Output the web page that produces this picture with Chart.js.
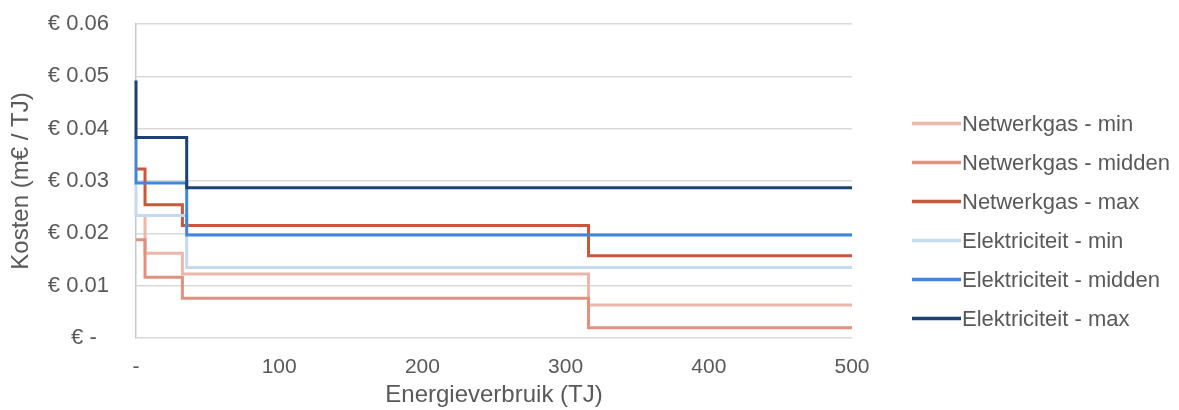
<!DOCTYPE html>
<html>
<head>
<meta charset="utf-8">
<script src="https://cdn.jsdelivr.net/npm/chart.js@4/dist/chart.umd.min.js"></script>
<style>
  html, body { margin: 0; padding: 0; background: #ffffff; }
  #wrap { width: 1179px; height: 410px; position: relative; }
</style>
</head>
<body>
<div id="wrap"><canvas id="chart" width="1179" height="410"></canvas></div>
<script>
// Kosten per TJ (m€) als trapfunctie van het energieverbruik (TJ)
const seriesNames = [
  'Netwerkgas - min',
  'Netwerkgas - midden',
  'Netwerkgas - max',
  'Elektriciteit - min',
  'Elektriciteit - midden',
  'Elektriciteit - max'
];
const seriesColors = ['#ebb7a9', '#df927f', '#c8583b', '#c5d9f2', '#3f87dc', '#1e4074'];

// Drempels (TJ) waarop het tarief verandert
const gasX  = [0, 6.3, 32.4, 316, 500];
const elekX = [0, 0, 35.4, 500];

// Tarieven per segment (m€ / TJ)
const gasMin     = [0.0234, 0.0162, 0.01225, 0.0063, 0.0063];
const gasMidden  = [0.01876, 0.01162, 0.0076, 0.00197, 0.00197];
const gasMax     = [0.0323, 0.02545, 0.0215, 0.0157, 0.0157];
const elekMin    = [0.0296, 0.0234, 0.01345, 0.01345];
const elekMidden = [0.0383, 0.0296, 0.0197, 0.0197];
const elekMax    = [0.0492, 0.0383, 0.0287, 0.0287];

const xTicks = [0, 100, 200, 300, 400, 500];
const yTicks = [0, 0.01, 0.02, 0.03, 0.04, 0.05, 0.06];

const seriesX = [gasX, gasX, gasX, elekX, elekX, elekX];
const seriesY = [gasMin, gasMidden, gasMax, elekMin, elekMidden, elekMax];

const FONT = "'Liberation Sans', Arial, Helvetica, sans-serif";
const TEXT = '#595959';

const datasets = seriesNames.map((name, i) => ({
  label: name,
  data: seriesX[i].map((x, j) => ({ x: x, y: seriesY[i][j] })),
  borderColor: seriesColors[i],
  backgroundColor: seriesColors[i],
  borderWidth: 3,
  stepped: 'before',
  pointRadius: 0,
  fill: false,
  borderJoinStyle: 'miter',
  borderCapStyle: 'butt',
  clip: false,
  order: seriesNames.length - i
}));

// Legenda rechts van het plotgebied
const sideLegend = {
  id: 'sideLegend',
  afterDraw(chart) {
    const ctx = chart.ctx;
    ctx.save();
    ctx.font = '22px ' + FONT;
    ctx.textBaseline = 'middle';
    ctx.textAlign = 'left';
    chart.data.datasets.forEach((ds, i) => {
      const y = 123.5 + i * 39;
      ctx.strokeStyle = ds.borderColor;
      ctx.lineWidth = 3.5;
      ctx.beginPath();
      ctx.moveTo(912, y);
      ctx.lineTo(961, y);
      ctx.stroke();
      ctx.fillStyle = TEXT;
      ctx.fillText(ds.label, 962, y + 1);
    });
    ctx.restore();
  }
};

new Chart(document.getElementById('chart'), {
  type: 'line',
  data: { datasets: datasets },
  options: {
    responsive: false,
    animation: false,
    events: [],
    layout: { padding: { top: 24, right: 1179 - 852, left: 0, bottom: 0 } },
    plugins: {
      legend: { display: false },
      tooltip: { enabled: false }
    },
    scales: {
      x: {
        type: 'linear',
        min: 0,
        max: 500,
        afterBuildTicks(scale) { scale.ticks = xTicks.map(v => ({ value: v })); },
        afterFit(scale) { scale.height = 72; },
        grid: { display: false, drawTicks: false },
        border: { display: false },
        ticks: {
          padding: 17,
          color: TEXT,
          font: { family: FONT, size: 21 },
          maxRotation: 0,
          callback: v => (v === 0 ? '-' : String(v))
        },
        title: {
          display: true,
          text: 'Energieverbruik (TJ)',
          color: TEXT,
          font: { family: FONT, size: 24 },
          padding: { top: 0, bottom: 0 }
        }
      },
      y: {
        type: 'linear',
        min: 0,
        max: 0.06,
        afterBuildTicks(scale) { scale.ticks = yTicks.map(v => ({ value: v })); },
        afterFit(scale) {
          scale.width = 136;
          scale.paddingTop = 12;
          scale.paddingBottom = 12;
        },
        grid: { color: '#d9d9d9', lineWidth: 1.5, drawTicks: false },
        border: { display: true, color: '#c8c8c8', width: 1.5 },
        ticks: {
          padding: 27,
          color: TEXT,
          font: { family: FONT, size: 22 },
          callback: v => (v === 0 ? '€ -  ' : '€ ' + v.toFixed(2))
        },
        title: {
          display: true,
          text: 'Kosten (m€ / TJ)',
          color: TEXT,
          font: { family: FONT, size: 24 },
          padding: { top: 7, bottom: 0 }
        }
      }
    }
  },
  plugins: [sideLegend]
});
</script>
</body>
</html>
